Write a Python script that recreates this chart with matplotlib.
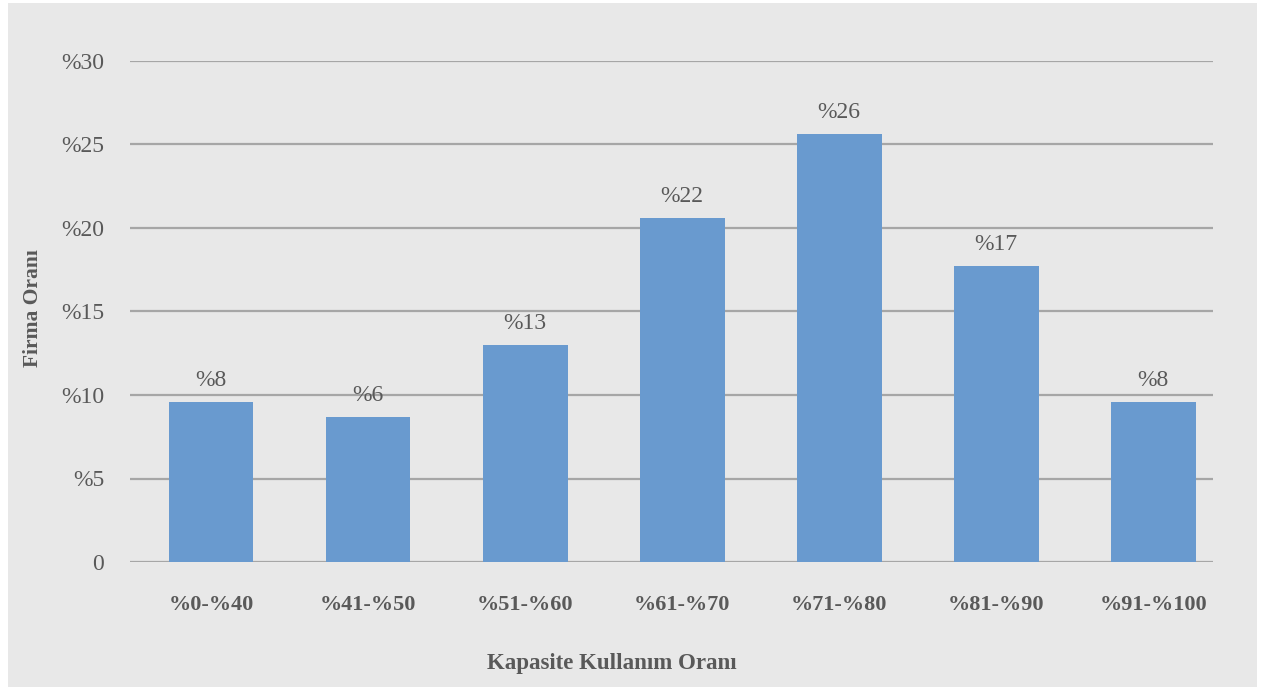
import matplotlib
matplotlib.use("Agg")
import matplotlib.pyplot as plt
from matplotlib.patches import Rectangle

categories = ["%0-%40", "%41-%50", "%51-%60", "%61-%70", "%71-%80", "%81-%90", "%91-%100"]
bar_heights = [9.6, 8.7, 13.0, 20.6, 25.6, 17.7, 9.6]
bar_labels = ["%8", "%6", "%13", "%22", "%26", "%17", "%8"]
y_ticks = [0, 5, 10, 15, 20, 25, 30]
y_tick_labels = ["0", "%5", "%10", "%15", "%20", "%25", "%30"]

plt.rcParams['font.family'] = ['Liberation Serif', 'DejaVu Serif']

W, H = 1268, 687
fig = plt.figure(figsize=(W / 100, H / 100), dpi=100)
fig.patch.set_facecolor("white")
fig.patches.append(Rectangle((8 / W, 0), (1257 - 8) / W, (684) / H,
                             transform=fig.transFigure, facecolor="#e8e8e8",
                             edgecolor="none", zorder=-10))

ax = fig.add_axes([130 / W, 1 - 562 / H, (1213 - 130) / W, (562 - 61) / H])
ax.set_facecolor("none")

x = list(range(len(categories)))
bars = ax.bar(x, bar_heights, width=0.54, color="#699acf", zorder=3)
for xi, h, lab in zip(x, bar_heights, bar_labels):
    ax.annotate(lab, (xi, h), xytext=(0, 8), textcoords="offset points",
                ha="center", va="bottom", fontsize=17, color="#595959")

ax.set_ylim(0, 30)
ax.set_xlim(-0.516, 6.38)
ax.set_yticks(y_ticks)
ax.set_yticklabels(y_tick_labels, fontsize=17, color="#595959")
ax.set_xticks(x)
ax.set_xticklabels(categories, fontsize=16, color="#595959", fontweight="bold")
ax.tick_params(axis="both", length=0)
ax.tick_params(axis="y", pad=18.5)
ax.tick_params(axis="x", pad=24)
ax.grid(axis="y", color="#a6a6a6", linewidth=1.6, zorder=0)
for s in ax.spines.values():
    s.set_visible(False)

fig.text(612 / W, 1 - 663 / H, "Kapasite Kullanım Oranı", ha="center", va="center",
         fontsize=16.5, color="#595959", fontweight="bold")
fig.text(33 / W, 1 - 308 / H, "Firma Oranı", ha="center", va="center", rotation=90,
         fontsize=15.5, color="#595959", fontweight="bold")

fig.savefig("out.png", dpi=100, facecolor=fig.get_facecolor())
